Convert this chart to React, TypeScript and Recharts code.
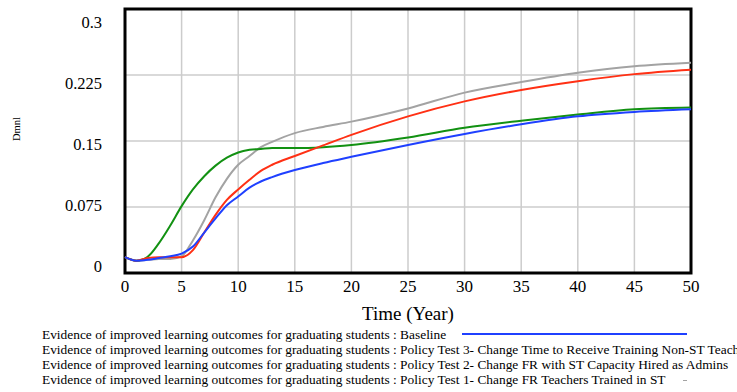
import { CartesianGrid, Label, Line, LineChart, ReferenceArea, XAxis, YAxis } from "recharts"

const years = [0, 1, 2, 3, 4, 5, 6, 7, 8, 9, 10, 11, 12, 13, 15, 17.5, 20, 25, 30, 35, 40, 45, 50]
const baseline = [0.018, 0.014, 0.015, 0.017, 0.019, 0.022, 0.03, 0.046, 0.062, 0.077, 0.087, 0.097, 0.104, 0.109, 0.117, 0.125, 0.132, 0.1455, 0.158, 0.169, 0.178, 0.183, 0.186]
const policy3 = [0.018, 0.014, 0.017, 0.018, 0.018, 0.018, 0.026, 0.046, 0.066, 0.083, 0.095, 0.106, 0.116, 0.123, 0.133, 0.145, 0.157, 0.178, 0.195, 0.208, 0.218, 0.226, 0.231]
const policy2 = [0.018, 0.014, 0.0185, 0.034, 0.054, 0.076, 0.095, 0.11, 0.122, 0.131, 0.137, 0.14, 0.141, 0.142, 0.142, 0.143, 0.1455, 0.154, 0.165, 0.173, 0.18, 0.186, 0.188]
const policy1 = [0.018, 0.014, 0.015, 0.016, 0.016, 0.019, 0.037, 0.06, 0.086, 0.107, 0.123, 0.133, 0.143, 0.149, 0.159, 0.166, 0.172, 0.187, 0.205, 0.217, 0.2275, 0.235, 0.239]

const xTicks = [0, 5, 10, 15, 20, 25, 30, 35, 40, 45, 50]
const yTicks = [0, 0.075, 0.15, 0.225, 0.3]

const prefix = "Evidence of improved learning outcomes for graduating students : "
const legendNames = [
  "Baseline",
  "Policy Test 3- Change Time to Receive Training Non-ST Teachers",
  "Policy Test 2- Change FR with ST Capacity Hired as Admins",
  "Policy Test 1- Change FR Teachers Trained in ST",
]

const C = { blue: "#1f40ff", red: "#ff3014", green: "#129112", gray: "#a3a3a3" }

const data = years.map((t, i) => ({ t, b: baseline[i], p3: policy3[i], p2: policy2[i], p1: policy1[i] }))
const font = "Liberation Serif, serif"

// Vensim spaces the y labels a bit tighter than the grid
function YTick(props: any) {
  const { x, y, payload } = props
  const ly = 22 + (y - 9) * 0.924
  return (
    <text x={x} y={ly} dy="0.36em" textAnchor="end" fill="#000" fontSize={16.5} fontFamily={font}>
      {payload.value}
    </text>
  )
}

export default function App() {
  return (
    <div style={{ position: "relative", width: 737, height: 392, overflow: "hidden", background: "#fff", fontFamily: font }}>
      <style>{`body{margin:0}`}</style>
      <LineChart width={737} height={330} data={data} margin={{ top: 9, right: 46, left: 0, bottom: 0 }} style={{ fontFamily: font }}>
        <CartesianGrid stroke="#cccccc" strokeWidth={1.5} />
        <XAxis
          dataKey="t"
          type="number"
          domain={[0, 50]}
          ticks={xTicks}
          height={57}
          tickLine={false}
          axisLine={false}
          tickMargin={1}
          tick={{ fill: "#000", fontSize: 17, fontFamily: font }}
        >
          <Label value="Time (Year)" position="insideBottom" offset={10} style={{ fill: "#000", fontSize: 19, fontFamily: font }} />
        </XAxis>
        <YAxis
          type="number"
          domain={[0, 0.3]}
          ticks={yTicks}
          width={125}
          tickLine={false}
          axisLine={false}
          tickMargin={17}
          tick={<YTick />}
        >
          <Label value="Dmnl" angle={-90} position="insideLeft" offset={16} style={{ fill: "#000", fontSize: 10.5, fontFamily: font }} />
        </YAxis>
        <Line dataKey="p1" stroke={C.gray} strokeWidth={2} dot={false} type="monotone" isAnimationActive={false} />
        <Line dataKey="p2" stroke={C.green} strokeWidth={2} dot={false} type="monotone" isAnimationActive={false} />
        <Line dataKey="p3" stroke={C.red} strokeWidth={2} dot={false} type="monotone" isAnimationActive={false} />
        <Line dataKey="b" stroke={C.blue} strokeWidth={2} dot={false} type="monotone" isAnimationActive={false} />
        <ReferenceArea x1={0} x2={50} y1={0} y2={0.3} fill="none" stroke="#000" strokeWidth={3} />
      </LineChart>
      <div style={{ position: "absolute", left: 42, top: 327, fontSize: 13.4, lineHeight: "15px", color: "#000", whiteSpace: "nowrap" }}>
        {legendNames.map((n) => (
          <div key={n}>{prefix + n}</div>
        ))}
      </div>
      <div style={{ position: "absolute", left: 462, top: 333, width: 225, height: 2, background: C.blue }} />
      <div style={{ position: "absolute", left: 683, top: 380, width: 4, height: 1, background: C.gray }} />
    </div>
  )
}
